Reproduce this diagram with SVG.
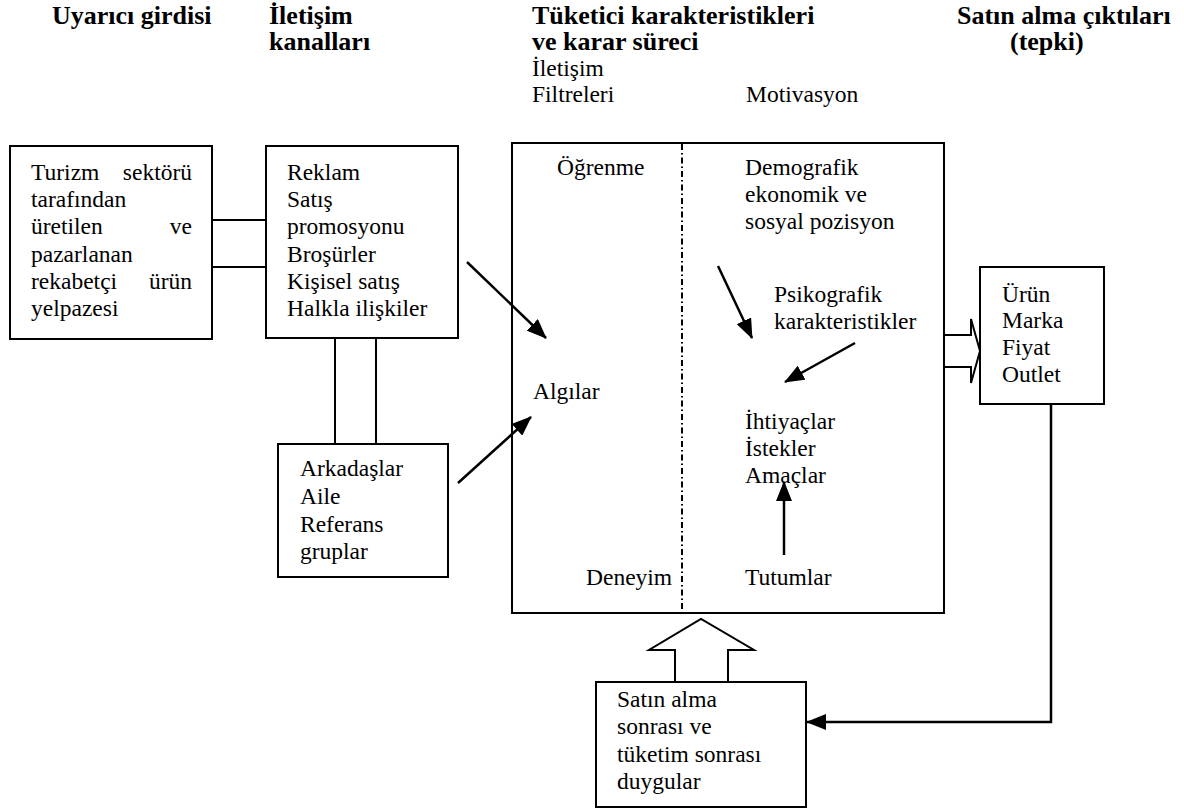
<svg xmlns="http://www.w3.org/2000/svg" width="1184" height="810" viewBox="0 0 1184 810">
<style>
.t{font-family:"Liberation Serif","Times New Roman",serif;font-size:23.5px;fill:#000}
.h{font-family:"Liberation Serif","Times New Roman",serif;font-size:26px;font-weight:bold;fill:#000}
.box{fill:#fff;stroke:#000;stroke-width:2}
.ln{fill:none;stroke:#000;stroke-width:2}
.ar{fill:none;stroke:#000;stroke-width:2.5;marker-end:url(#ah)}
</style>
<defs>
<marker id="ah" markerUnits="userSpaceOnUse" markerWidth="20" markerHeight="16" refX="19" refY="8" orient="auto">
<path d="M0,0 L20,8 L0,16 Z" fill="#000"/>
</marker>
</defs>
<rect width="1184" height="810" fill="#fff"/>
<g id="headers">
<text class="h" x="52" y="24">Uyarıcı girdisi</text>
<text class="h" x="269" y="24">İletişim</text>
<text class="h" x="269" y="50">kanalları</text>
<text class="h" x="532" y="24">Tüketici karakteristikleri</text>
<text class="h" x="532" y="50">ve karar süreci</text>
<text class="t" x="532" y="76">İletişim</text>
<text class="t" x="532" y="102">Filtreleri</text>
<text class="t" x="746" y="102">Motivasyon</text>
<text class="h" x="957" y="24">Satın alma çıktıları</text>
<text class="h" x="1010" y="50">(tepki)</text>
</g>
<g id="node-turizm">
<rect class="box" x="10" y="146" width="202" height="193"/>
<text class="t" x="31" y="180">Turizm</text>
<text class="t" x="192" y="180" text-anchor="end">sektörü</text>
<text class="t" x="31" y="207">tarafından</text>
<text class="t" x="31" y="234">üretilen</text>
<text class="t" x="192" y="234" text-anchor="end">ve</text>
<text class="t" x="31" y="262">pazarlanan</text>
<text class="t" x="31" y="289">rekabetçi</text>
<text class="t" x="192" y="289" text-anchor="end">ürün</text>
<text class="t" x="31" y="316">yelpazesi</text>
</g>
<g id="node-kanallar">
<rect class="box" x="266" y="146" width="192" height="192"/>
<text class="t" x="287" y="180">Reklam</text>
<text class="t" x="287" y="207">Satış</text>
<text class="t" x="287" y="234">promosyonu</text>
<text class="t" x="287" y="262">Broşürler</text>
<text class="t" x="287" y="289">Kişisel satış</text>
<text class="t" x="287" y="316">Halkla ilişkiler</text>
</g>
<g id="node-arkadaslar">
<rect class="box" x="278" y="444" width="170" height="133"/>
<text class="t" x="300" y="476">Arkadaşlar</text>
<text class="t" x="300" y="504">Aile</text>
<text class="t" x="300" y="532">Referans</text>
<text class="t" x="300" y="559">gruplar</text>
</g>
<g id="node-tuketici">
<rect x="512" y="143" width="432" height="470" fill="#fff" stroke="#000" stroke-width="2"/>
<line x1="682" y1="144" x2="682" y2="612" stroke="#000" stroke-width="2" stroke-dasharray="6 3 1.5 3"/>
<text class="t" x="557" y="175">Öğrenme</text>
<text class="t" x="745" y="175">Demografik</text>
<text class="t" x="745" y="202">ekonomik ve</text>
<text class="t" x="745" y="229">sosyal pozisyon</text>
<text class="t" x="774" y="302">Psikografik</text>
<text class="t" x="774" y="329">karakteristikler</text>
<text class="t" x="533" y="399">Algılar</text>
<text class="t" x="745" y="429">İhtiyaçlar</text>
<text class="t" x="745" y="456">İstekler</text>
<text class="t" x="745" y="483">Amaçlar</text>
<text class="t" x="586" y="585">Deneyim</text>
<text class="t" x="745" y="585">Tutumlar</text>
</g>
<g id="node-cikti">
<rect class="box" x="980" y="267" width="124" height="137"/>
<text class="t" x="1002" y="302">Ürün</text>
<text class="t" x="1002" y="328">Marka</text>
<text class="t" x="1002" y="355">Fiyat</text>
<text class="t" x="1002" y="382">Outlet</text>
</g>
<g id="node-duygular">
<rect class="box" x="596" y="682" width="210" height="125"/>
<text class="t" x="617" y="707">Satın alma</text>
<text class="t" x="617" y="734">sonrası ve</text>
<text class="t" x="617" y="762">tüketim sonrası</text>
<text class="t" x="617" y="789">duygular</text>
</g>
<g id="connectors">
<line class="ln" x1="212" y1="220" x2="266" y2="220"/>
<line class="ln" x1="212" y1="267" x2="266" y2="267"/>
<line class="ln" x1="335" y1="338" x2="335" y2="444"/>
<line class="ln" x1="376" y1="338" x2="376" y2="444"/>
<line class="ar" x1="467" y1="262" x2="546" y2="338"/>
<line class="ar" x1="458" y1="483" x2="531" y2="417"/>
<line class="ar" x1="718" y1="266" x2="752" y2="338"/>
<line class="ar" x1="855" y1="343" x2="785" y2="382"/>
<line class="ar" x1="784" y1="555" x2="784" y2="482"/>
<polyline class="ln" points="944,335 971,335 971,319 980,351 971,383 971,367 944,367"/>
<polyline class="ln" points="675,682 675,650 649,650 701,619 754,650 728,650 728,682"/>
<polyline class="ar" points="1051,404 1051,722 807,722"/>
</g>
</svg>
